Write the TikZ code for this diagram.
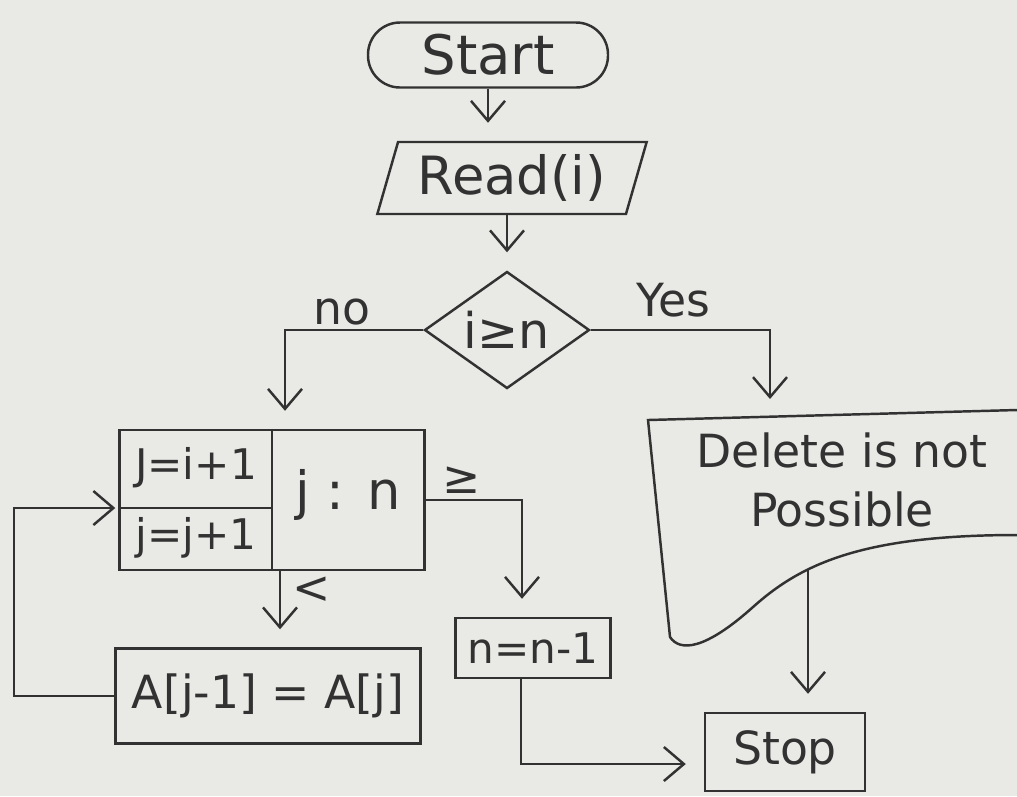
\documentclass[tikz,border=0pt]{standalone}
\usepackage{fontspec}
\setmainfont{DejaVu Sans}
\usetikzlibrary{shapes.geometric,positioning,arrows.meta}
\definecolor{paper}{RGB}{233,233,229}
\definecolor{pencil}{RGB}{50,50,50}

\begin{document}
\begin{tikzpicture}[pen/.style={draw=pencil, line width=0.7pt},
	box/.style={pen, rectangle, inner sep=0pt},
	arr/.style={pen, -{Straight Barb[length=2mm,width=3.4mm]}, shorten >=1.8mm},
	lbl/.style={font=\fontsize{13}{15}\selectfont},
	every node/.style={text=pencil}]
	\fill[paper] (0,0) rectangle (10.17,-7.96);
	\useasboundingbox (0,0) rectangle (10.17,-7.96);

	\node[box, rounded corners=3.2mm, minimum width=2.4cm, minimum height=0.65cm, font=\fontsize{15.5}{18}\selectfont] (start) at (4.88,-0.55) {Start};
	\node[pen, trapezium, trapezium left angle=70, trapezium right angle=110, trapezium stretches=true, minimum width=2.71cm, minimum height=0.72cm, inner sep=0pt, font=\fontsize{15}{18}\selectfont] (read) at (5.12,-1.78) {Read(i)};
	\node[pen, diamond, aspect=1.4, minimum width=1.65cm, minimum height=1.17cm, inner sep=0pt, font=\fontsize{14}{16}\selectfont] (dia) at (5.07,-3.30) {i≥n};

	\node[box, minimum width=3.05cm, minimum height=1.40cm] (loop) at (2.72,-5.00) {};
	\coordinate (split) at (2.72,-5.08);
	\draw[pen] (loop.north) -- (loop.south);
	\draw[pen] (loop.west |- split) -- (split);
	\node[font=\fontsize{12}{14}\selectfont] (init) at (1.96,-4.68) {J=i+1};
	\node[font=\fontsize{12}{14}\selectfont] (incr) at (1.96,-5.38) {j=j+1};
	\node[font=\fontsize{15}{18}\selectfont] (cond) at (3.48,-4.95) {j : n};

	\node[box, minimum width=3.05cm, minimum height=0.95cm, font=\fontsize{13}{16}\selectfont] (shift) at (2.68,-6.96) {A[j-1] = A[j]};
	\node[box, minimum width=1.55cm, minimum height=0.60cm, font=\fontsize{12}{14}\selectfont] (dec) at (5.33,-6.48) {n=n-1};
	\node[box, minimum width=1.60cm, minimum height=0.78cm, font=\fontsize{13}{16}\selectfont] (stop) at (7.85,-7.52) {Stop};

	\draw[pen] (10.17,-4.10) -- (6.48,-4.20) -- (6.70,-6.37)
		.. controls (6.80,-6.52) and (7.05,-6.50) .. (7.53,-6.07)
		.. controls (8.00,-5.65) and (8.60,-5.35) .. (10.17,-5.35);
	\node[font=\fontsize{13}{17}\selectfont, align=center] (msg) at (8.42,-4.80) {Delete is not\\Possible};
	\coordinate (dtop) at (7.70,-4.17);
	\coordinate (dbot) at (8.08,-5.70);

	\draw[arr] (start.south) -- (start.south |- read.north);
	\draw[arr] (read.south -| dia.north) -- (dia.north);
	\draw[arr] (dia.west) -| ([xshift=1.3mm]loop.north);
	\draw[arr] (dia.east) -| (dtop);
	\draw[arr] (loop.east) -| ([xshift=-1.1mm]dec.north);
	\draw[arr] ([xshift=0.8mm]loop.south) -- ([xshift=0.8mm]loop.south |- shift.north);
	\draw[arr, shorten >=0.3mm] (shift.west) -- ++(-1.0,0) |- (loop.west |- split);
	\draw[arr] ([xshift=-1.2mm]dec.south) |- ([yshift=-1.2mm]stop.west);
	\draw[arr] (dbot) -- (dbot |- stop.north);

	\node[lbl] (no) at (3.42,-3.12) {no};
	\node[lbl] (yes) at (6.73,-3.00) {Yes};
	\node[lbl] (ge) at (4.62,-4.80) {≥};
	\node[lbl] (lt) at (3.12,-5.90) {<};
\end{tikzpicture}
\end{document}
